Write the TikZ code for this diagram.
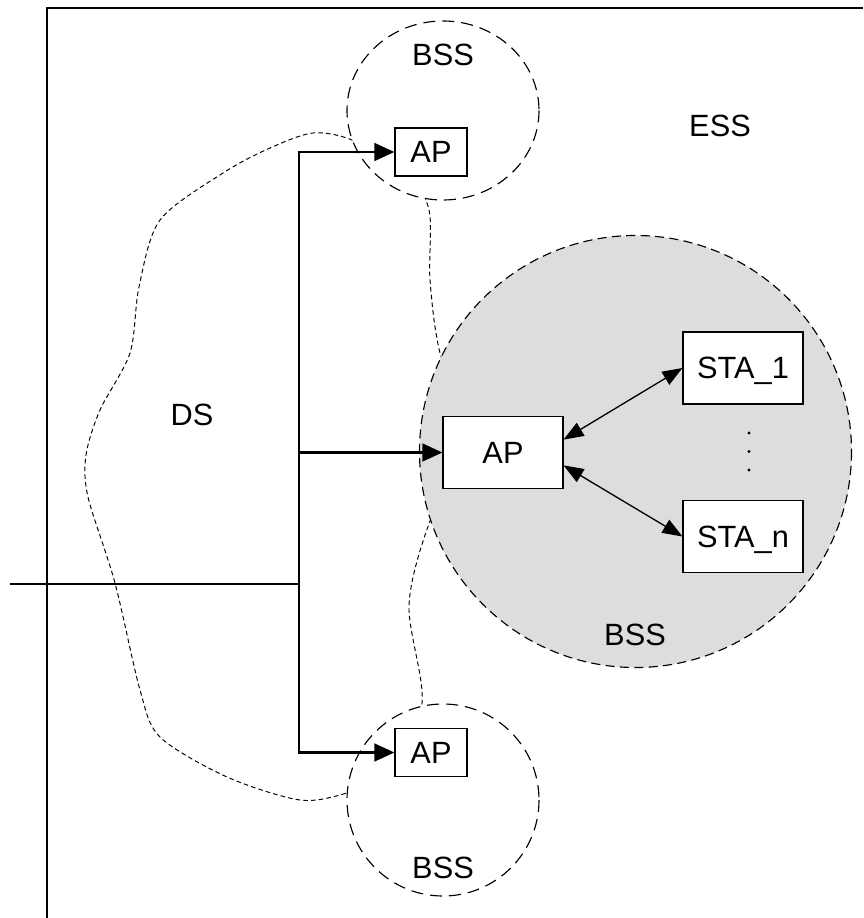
\documentclass[tikz,border=0pt]{standalone}
\usepackage{fontspec}
\setmainfont{Liberation Sans}
\usetikzlibrary{arrows.meta}
\definecolor{bssgray}{RGB}{221,221,221}

\begin{document}
\begin{tikzpicture}[x=0.2mm, y=-0.2mm,
    every node/.style={font=\fontsize{17.5}{20}\selectfont, text height=12.5pt, text depth=0pt},
    box/.style={draw, fill=white, line width=0.6pt, inner sep=0pt},
    bss/.style={draw, fill=white, line width=0.65pt, dash pattern=on 6.8pt off 4pt},
    link/.style={line width=1.6pt, -{Triangle[length=4mm, width=3.5mm]}},
    radio/.style={line width=0.75pt, {Triangle[length=4mm, width=3mm]}-{Triangle[length=4mm, width=3mm]}}]
    % image is 863 x 918 units, y running downwards
    \useasboundingbox (0,0) rectangle (863,918);

    % ESS frame, open to the right and bottom
    \draw[line width=0.8pt] (47,918) -- (47,8) -- (863,8);

    % DS outline (the BSS circles are laid over it)
    \draw[line width=0.55pt, dash pattern=on 2.6pt off 1.8pt] plot[smooth cycle] coordinates {
        (313,133) (352,140) (405,170) (429,210) (430,280) (440,353) (470,440)
        (430,521) (409,605) (422,703) (390,775) (347,793) (300,800) (227,777)
        (160,737) (140,690) (115,583) (88,497) (86,455) (100,410) (130,353)
        (139,287) (160,220) (223,173) (270,148)};

    % BSS areas
    \draw[bss] (443,110.5) ellipse [x radius=96, y radius=89.5];
    \draw[bss] (443,800) circle [radius=96];
    \draw[bss, fill=bssgray, dash pattern=on 5.2pt off 3pt] (635.5,451.5) circle [radius=216];

    % access points and stations
    \node[box, minimum width=14.4mm, minimum height=9.6mm] (aptop) at (431,152) {AP};
    \node[box, minimum width=24mm, minimum height=14.4mm] (apmid) at (503,452.5) {AP};
    \node[box, minimum width=14.4mm, minimum height=9.6mm] (apbot) at (431,752.5) {AP};
    \node[box, minimum width=24mm, minimum height=14.4mm] (sta1) at (743,368) {STA\_1};
    \node[box, minimum width=24mm, minimum height=14.4mm] (stan) at (743,536.5) {STA\_n};
    \foreach \y in {433,451.5,470}
        \fill (749,\y) circle [radius=1.7];

    % labels
    \node (esslabel) at (720,126) {ESS};
    \node (dslabel) at (192,415) {DS};
    \node (bsstop) at (443,55) {BSS};
    \node (bssmid) at (635,635) {BSS};
    \node (bssbot) at (443,868) {BSS};

    % distribution bus and feed line
    \coordinate (bus) at (299,0);
    \coordinate (feed) at (10,584);
    \draw[line width=1.6pt] (feed) -- (feed -| bus);
    \draw[link] (bus |- apmid.west) -- (bus |- aptop.west) -- (aptop.west);
    \draw[link] (bus |- apmid.west) -- (bus |- apbot.west) -- (apbot.west);
    \draw[link] (bus |- apmid.west) -- (apmid.west);

    % radio links inside the shaded BSS
    \draw[radio] (apmid.12) -- (sta1.west);
    \draw[radio] (apmid.-12) -- (stan.west);
\end{tikzpicture}
\end{document}
